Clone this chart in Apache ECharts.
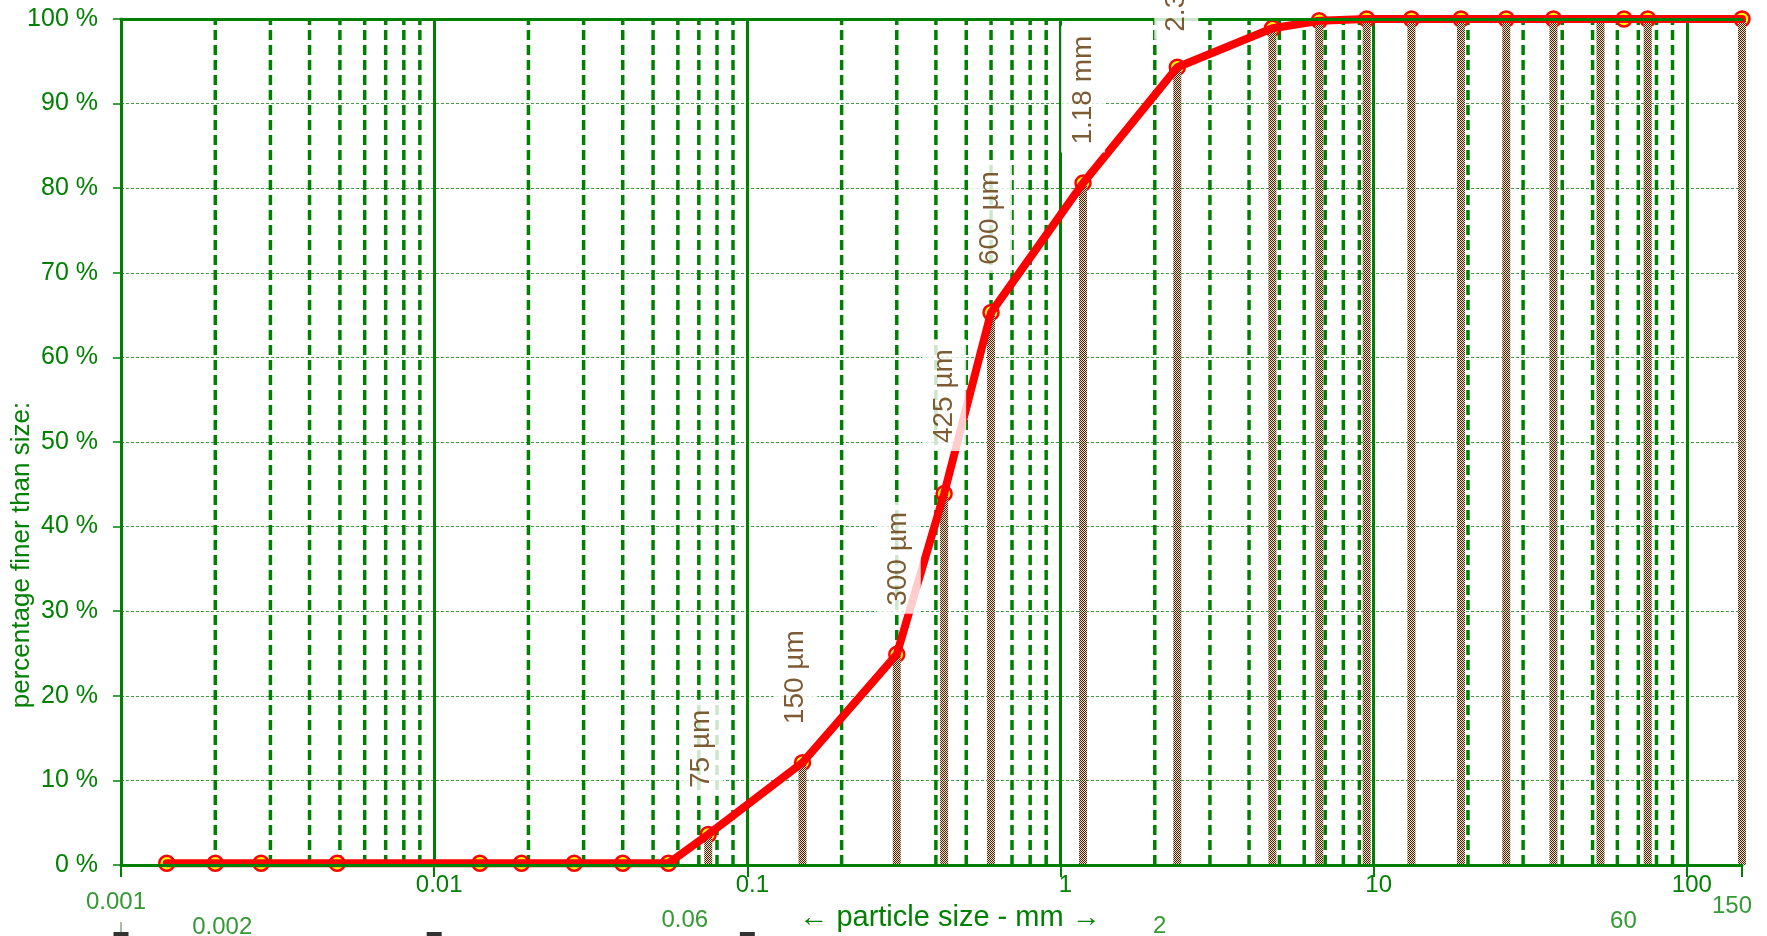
<!DOCTYPE html>
<html>
<head>
<meta charset="utf-8">
<script src="https://cdn.jsdelivr.net/npm/echarts@6/dist/echarts.min.js"></script>
<style>
html,body{margin:0;padding:0;background:#fff;}
#chart{width:1767px;height:936px;}
</style>
</head>
<body>
<div id="chart"></div>
<script>
// ---- data ----
const passSizes = [0.0014, 0.002, 0.0028, 0.0049, 0.014, 0.019, 0.028, 0.04, 0.056,
  0.075, 0.15, 0.3, 0.425, 0.6, 1.18, 2.36, 4.75, 6.7, 9.5, 13.2, 19, 26.5, 37.5, 53, 63, 75, 150];
const passPct = [0.2, 0.2, 0.2, 0.2, 0.2, 0.2, 0.2, 0.2, 0.2,
  3.6, 12.1, 24.9, 43.9, 65.3, 80.6, 94.3, 98.9, 99.8, 100, 100, 100, 100, 100, 100, 100, 100, 100];
const barSizes = [0.075, 0.15, 0.3, 0.425, 0.6, 1.18, 2.36, 4.75, 6.7, 9.5, 13.2, 19, 26.5, 37.5, 53, 75, 150];
const markerSizes = [0.0014, 0.002, 0.0028, 0.0049, 0.014, 0.019, 0.028, 0.04, 0.056,
  0.075, 0.15, 0.3, 0.425, 0.6, 1.18, 2.36, 4.75, 6.7, 9.5, 13.2, 19, 26.5, 37.5, 63, 75, 150];
const labelSizes = [0.075, 0.15, 0.3, 0.425, 0.6, 1.18, 2.36];
const labelTexts = ['75 µm', '150 µm', '300 µm', '425 µm', '600 µm', '1.18 mm', '2.36 mm'];
const minorGrid = [
  0.002, 0.003, 0.004, 0.005, 0.006, 0.007, 0.008, 0.009,
  0.02, 0.03, 0.04, 0.05, 0.06, 0.07, 0.08, 0.09,
  0.2, 0.3, 0.4, 0.5, 0.6, 0.7, 0.8, 0.9,
  2, 3, 4, 5, 6, 7, 8, 9,
  20, 30, 40, 50, 60, 70, 80, 90];
const xTickValues = [0.01, 0.1, 1, 10, 100];
const xTickLabels = ['0.01', '0.1', '1', '10', '100'];
const extraTickValues = [0.001, 0.002, 0.06, 2, 60, 150];
const extraTickLabels = ['0.001', '0.002', '0.06', '2', '60', '150'];
const blackMarkValues = [0.001, 0.01, 0.1];

// ---- styles / positions ----
const GREEN = '#008000';
const FONT = '"Liberation Sans", Arial, sans-serif';
const extraTickOffsets = [[-5, 37], [7, 62], [7, 55], [5, 61], [6, 56], [-10, 41]];
const labelDistances = [38, 30, 40, 42, 39, 30, 27];
const labelShifts = [-7, -7, 2, 0, -1, 0, -1];

function pctOf(size) { return passPct[passSizes.indexOf(size)]; }

const pc = document.createElement('canvas');
pc.width = 2; pc.height = 2;
const pctx = pc.getContext('2d');
pctx.fillStyle = '#e6dacd'; pctx.fillRect(0, 0, 2, 2);
pctx.fillStyle = '#4a2505'; pctx.fillRect(0, 0, 1, 1); pctx.fillRect(1, 1, 1, 1);
const barPattern = { image: pc, repeat: 'repeat' };

const chart = echarts.init(document.getElementById('chart'), null, { renderer: 'canvas' });

const xCommon = { type: 'log', logBase: 10, min: 0.001, max: 150, gridIndex: 0 };

const option = {
  backgroundColor: '#ffffff',
  animation: false,
  grid: { left: 121, right: 25, top: 19, bottom: 71, containLabel: false, outerBoundsMode: 'none' },
  xAxis: [
    Object.assign({}, xCommon, {
      position: 'bottom', z: 0,
      axisLine: { show: false }, axisTick: { show: false }, axisLabel: { show: false },
      splitLine: { show: true, lineStyle: { color: GREEN, width: 3, type: 'solid' } }
    }),
    Object.assign({}, xCommon, {
      position: 'bottom', z: 6,
      axisLine: { show: true, onZero: false, lineStyle: { color: GREEN, width: 3 } },
      axisTick: { show: true, length: 12, lineStyle: { color: GREEN, width: 2 } },
      splitLine: { show: false },
      axisLabel: {
        show: true, margin: 8, fontSize: 24, fontFamily: FONT, color: GREEN,
        padding: [0, 0, 0, 10],
        formatter: function (v) {
          const lv = Math.log10(v);
          for (let i = 0; i < xTickValues.length; i++) {
            if (Math.abs(lv - Math.log10(xTickValues[i])) < 1e-6) return xTickLabels[i];
          }
          return '';
        }
      },
      name: '\u2190 particle size - mm \u2192',
      nameLocation: 'middle', nameGap: 38, nameMoveOverlap: false,
      nameTextStyle: { fontSize: 29, fontFamily: FONT, color: GREEN, padding: [0, 0, 0, 37] }
    }),
    Object.assign({}, xCommon, {
      position: 'top', z: 6,
      axisLine: { show: true, onZero: false, lineStyle: { color: GREEN, width: 3 } },
      axisTick: { show: false }, axisLabel: { show: false }, splitLine: { show: false }
    })
  ],
  yAxis: [
    {
      type: 'value', min: 0, max: 100, interval: 10, z: 0,
      axisLine: { show: false }, axisTick: { show: false }, axisLabel: { show: false },
      splitLine: { show: true, lineStyle: { color: '#449944', width: 1, type: [3, 2] } }
    },
    {
      type: 'value', min: 0, max: 100, interval: 10, z: 6, position: 'left',
      axisLine: { show: true, onZero: false, lineStyle: { color: GREEN, width: 3 } },
      axisTick: { show: true, length: 8, lineStyle: { color: GREEN, width: 1.5 } },
      splitLine: { show: false },
      axisLabel: { show: true, margin: 23, fontSize: 25, fontFamily: FONT, color: GREEN, formatter: '{value} %' },
      name: 'percentage finer than size:',
      nameLocation: 'middle', nameGap: 86, nameRotate: 90, nameMoveOverlap: false,
      nameTextStyle: { fontSize: 26, fontFamily: FONT, color: GREEN, padding: [0, 226, 0, 0] }
    }
  ],
  series: [
    {
      name: 'minorGrid', type: 'custom', xAxisIndex: 0, yAxisIndex: 0, z: 1, silent: true,
      data: minorGrid.map(v => [v]),
      renderItem: function (params, api) {
        const p0 = api.coord([api.value(0), 0]);
        const p1 = api.coord([api.value(0), 100]);
        return {
          type: 'line',
          shape: { x1: p0[0], y1: p0[1], x2: p1[0], y2: p1[1] },
          style: { stroke: GREEN, lineWidth: 3.5, lineDash: [10, 5], fill: null }
        };
      }
    },
    {
      name: 'markers', type: 'scatter', xAxisIndex: 0, yAxisIndex: 0, z: 2, clip: false,
      symbol: 'circle', symbolSize: 15,
      itemStyle: { color: '#ffff00', borderColor: '#ff0000', borderWidth: 2.5, opacity: 1 },
      data: markerSizes.map(s => [s, pctOf(s)])
    },
    {
      name: 'bars', type: 'custom', xAxisIndex: 0, yAxisIndex: 0, z: 3,
      data: barSizes.map(s => [s, pctOf(s)]),
      renderItem: function (params, api) {
        const top = api.coord([api.value(0), api.value(1)]);
        const bot = api.coord([api.value(0), 0]);
        const w = 8;
        return {
          type: 'rect',
          shape: { x: top[0] - w / 2, y: top[1], width: w, height: bot[1] - top[1] },
          style: { fill: barPattern }
        };
      }
    },
    {
      name: 'curve', type: 'line', xAxisIndex: 0, yAxisIndex: 0, z: 4,
      showSymbol: false, symbol: 'none', smooth: false,
      lineStyle: { color: '#ff0000', width: 8, cap: 'round', join: 'round' },
      data: passSizes.map((s, i) => [s, passPct[i]])
    },
    {
      name: 'sieveLabels', type: 'scatter', xAxisIndex: 0, yAxisIndex: 0, z: 10, clip: false,
      symbolSize: 1, itemStyle: { color: 'rgba(0,0,0,0)' }, silent: true,
      data: labelSizes.map((s, i) => ({
        value: [s, pctOf(s)], name: labelTexts[i],
        label: { distance: labelDistances[i], offset: [0, labelShifts[i]] }
      })),
      label: {
        show: true, position: 'top', rotate: 90,
        align: 'left', verticalAlign: 'middle',
        formatter: '{b}', fontSize: 28, fontFamily: FONT, color: '#5c3300',
        backgroundColor: '#ffffff', padding: [8, 10, 8, 8]
      }
    },
    {
      name: 'extraTicks', type: 'scatter', xAxisIndex: 0, yAxisIndex: 0, z: 10, clip: false,
      symbolSize: 1, itemStyle: { color: 'rgba(0,0,0,0)' }, silent: true,
      data: extraTickValues.map((v, i) => ({
        value: [v, 0],
        label: { formatter: extraTickLabels[i], offset: extraTickOffsets[i] }
      })),
      label: {
        show: true, position: 'inside', align: 'center', verticalAlign: 'middle',
        fontSize: 24, fontFamily: FONT, color: GREEN
      }
    },
    {
      name: 'bottomMarks', type: 'scatter', xAxisIndex: 0, yAxisIndex: 0, z: 10, clip: false,
      symbol: 'rect', symbolSize: [15, 8], symbolOffset: [0, 71], silent: true,
      itemStyle: { color: '#000000' },
      data: blackMarkValues.map(v => [v, 0])
    },
    {
      name: 'bottomStub', type: 'scatter', xAxisIndex: 0, yAxisIndex: 0, z: 10, clip: false,
      symbol: 'rect', symbolSize: [1.5, 10], symbolOffset: [0, 62], silent: true,
      itemStyle: { color: '#6f8f6f' },
      data: [[extraTickValues[0], 0]]
    }
  ]
};

chart.setOption(option);
</script>
</body>
</html>
